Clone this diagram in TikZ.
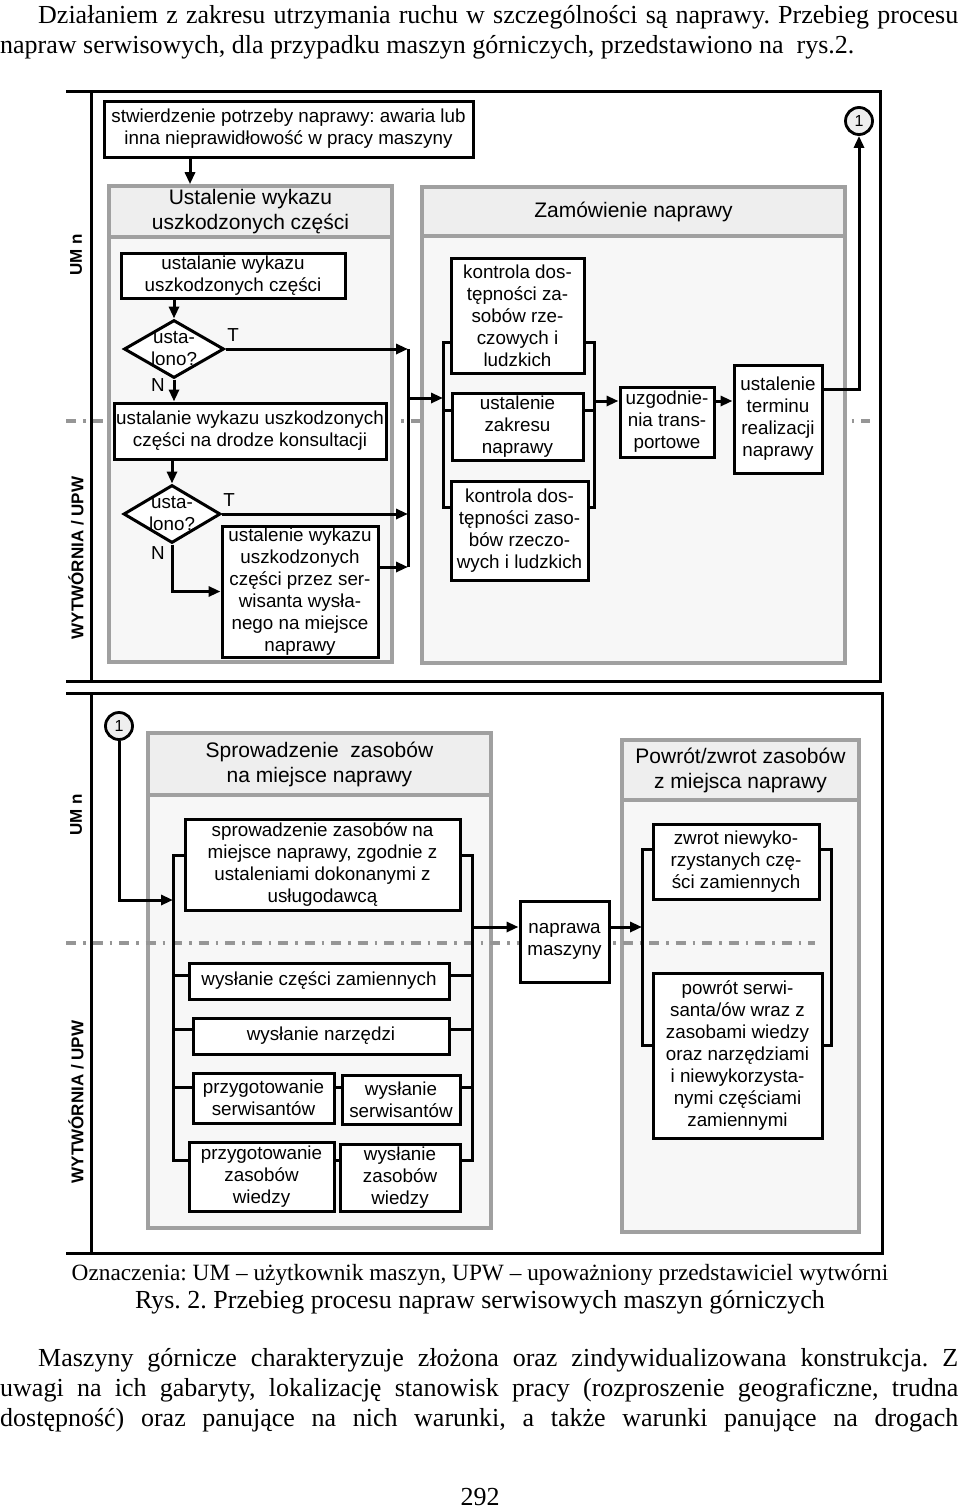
\documentclass[tikz,border=0pt]{standalone}
\usepackage{fontspec}
\setmainfont{Liberation Serif}
\newfontfamily\diagfont{Liberation Sans}
\usetikzlibrary{shapes.geometric, arrows.meta}
\definecolor{grpLine}{RGB}{160,160,160}
\definecolor{grpFill}{RGB}{247,247,247}
\definecolor{headFill}{RGB}{238,238,238}
\definecolor{laneLine}{RGB}{150,150,150}
\frenchspacing

\begin{document}
\begin{tikzpicture}[x=1pt, y=-1pt,
  para/.style={font=\fontsize{26}{30}\selectfont, inner sep=0pt},
  task/.style={
    rectangle,
    draw=black,
    line width=3pt,
    fill=white,
    align=center,
    inner sep=0pt,
    font=\diagfont\fontsize{18.8}{22}\selectfont
  },
  decision/.style={
    diamond,
    draw=black,
    line width=3pt,
    fill=white,
    inner sep=0pt,
    minimum width=100pt,
    minimum height=58pt
  },
  dtext/.style={align=center, inner sep=0pt, font=\diagfont\fontsize{18.8}{22}\selectfont},
  answer/.style={inner sep=0pt, font=\diagfont\fontsize{18.8}{22}\selectfont},
  grpbody/.style={rectangle, draw=grpLine, line width=3.6pt, fill=grpFill, inner sep=0pt},
  grphead/.style={
    rectangle,
    draw=grpLine,
    line width=3.6pt,
    fill=headFill,
    align=center,
    inner sep=0pt,
    font=\diagfont\fontsize{21}{25}\selectfont
  },
  joint/.style={
    circle,
    draw=black,
    line width=2.8pt,
    fill=headFill,
    minimum size=27pt,
    inner sep=0pt,
    font=\diagfont\fontsize{16}{18}\selectfont
  },
  lane/.style={rotate=90, inner sep=0pt, font=\diagfont\bfseries\fontsize{17}{20}\selectfont},
  frame/.style={draw=black, line width=3pt},
  sepline/.style={draw=laneLine, line width=3.2pt, dash pattern=on 10pt off 7pt on 2.5pt off 7pt},
  conn/.style={draw=black, line width=3pt},
  flow/.style={conn, -{Triangle[length=12pt, width=10pt]}}
]
  \useasboundingbox (0,0) rectangle (960,1510);

  % --- tekst strony ---
  \node[para, anchor=base west] (txt1) at (38,23)
    {\hbox to 920pt{Działaniem z zakresu utrzymania ruchu w szczególności są naprawy. Przebieg procesu}};
  \node[para, anchor=base west] (txt2) at (0,53)
    {napraw serwisowych, dla przypadku maszyn górniczych, przedstawiono na\ \ rys.2.};

  % ===== panel 1 =====
  \draw[frame] (66,91) -- (880,91) -- (880,681) -- (66,681);
  \draw[frame] (91,91) -- (91,681);
  \draw[sepline] (66,421) -- (870,421);
  \node[lane] (um1) at (76,255) {UM n};
  \node[lane] (wyt1) at (76,558) {WYTWÓRNIA / UPW};

  \node[task, minimum width=369pt, minimum height=56pt] (start) at (288.5,129)
    {stwierdzenie potrzeby naprawy: awaria lub\\inna nieprawidłowość w pracy maszyny};

  % grupa: ustalenie wykazu
  \node[grpbody, minimum width=283pt, minimum height=425pt] (g1) at (250.5,449.5) {};
  \node[grphead, minimum width=283pt, minimum height=51pt] (g1h) at (250.5,211.5)
    {Ustalenie wykazu\\uszkodzonych części};
  % grupa: zamowienie
  \node[grpbody, minimum width=423pt, minimum height=427pt] (g2) at (633.5,449.5) {};
  \node[grphead, minimum width=423pt, minimum height=49pt] (g2h) at (633.5,211.5)
    {Zamówienie naprawy};

  \node[task, minimum width=224pt, minimum height=45pt] (t1) at (233,275.5)
    {ustalanie wykazu\\uszkodzonych części};
  \node[decision, label={[dtext]center:usta-\\lono?}] (d1) at (174,349) {};
  \node[answer] (d1t) at (233,335) {T};
  \node[answer] (d1n) at (158,385) {N};
  \node[task, minimum width=272pt, minimum height=56pt] (t2) at (250,431)
    {ustalanie wykazu uszkodzonych\\części na drodze konsultacji};
  \node[decision, minimum width=97pt, label={[dtext]center:usta-\\lono?}] (d2) at (172,514) {};
  \node[answer] (d2t) at (229,500) {T};
  \node[answer] (d2n) at (158,553) {N};
  \node[task, minimum width=156pt, minimum height=131pt] (t3) at (300,591.5)
    {ustalenie wykazu\\uszkodzonych\\części przez ser-\\wisanta wysła-\\nego na miejsce\\naprawy};

  \node[task, minimum width=133pt, minimum height=115pt] (k1) at (517.5,315.5)
    {kontrola dos-\\tępności za-\\sobów rze-\\czowych i\\ludzkich};
  \node[task, minimum width=131pt, minimum height=67pt] (k2) at (517.5,426.5)
    {ustalenie\\zakresu\\naprawy};
  \node[task, minimum width=137pt, minimum height=99pt] (k3) at (519.5,530.5)
    {kontrola dos-\\tępności zaso-\\bów rzeczo-\\wych i ludzkich};
  \node[task, minimum width=94pt, minimum height=70pt] (uz) at (667,422)
    {uzgodnie-\\nia trans-\\portowe};
  \node[task, minimum width=88pt, minimum height=108pt] (ut) at (778,419)
    {ustalenie\\terminu\\realizacji\\naprawy};
  \node[joint] (c1) at (859,121) {1};

  \coordinate (jA) at (408,349);
  \coordinate (jM) at (408,398);
  \coordinate (jB) at (408,567);
  \coordinate (kLt) at (443,342);
  \coordinate (kLm) at (443,410);
  \coordinate (kLb) at (443,507);
  \coordinate (kRt) at (594,342);
  \coordinate (kRm) at (594,410);
  \coordinate (kRb) at (594,507);
  \coordinate (kRo) at (594,401);

  \draw[flow] (start.south -| 190,0) -- (g1h.north -| 190,0);
  \draw[flow] (t1.south -| d1) -- (d1.north);
  \draw[flow] (d1.east) -- (jA);
  \draw[flow] (d1.south) -- (d1.south |- t2.north);
  \draw[flow] (t2.south -| d2) -- (d2.north);
  \draw[flow] (d2.east) -- (d2.east -| jA);
  \draw[flow] (d2.south) |- (t3.west);
  \draw[flow] (t3.east |- jB) -- (jB);
  \draw[conn] (jA) -- (jB);
  \draw[flow] (jM) -- (jM -| kLt);

  \draw[conn] (k1.west |- kLt) -- (kLt) -- (kLb) -- (k3.west |- kLb);
  \draw[conn] (kLm) -- (k2.west |- kLm);
  \draw[conn] (k1.east |- kRt) -- (kRt) -- (kRb) -- (k3.east |- kRb);
  \draw[conn] (k2.east |- kRm) -- (kRm);
  \draw[flow] (kRo) -- (uz.west |- kRo);
  \draw[flow] (uz.east |- kRo) -- (ut.west |- kRo);
  \draw[flow] (ut.east |- 0,389) -| (c1.south);

  % ===== panel 2 =====
  \draw[frame] (66,693) -- (882,693) -- (882,1253) -- (66,1253);
  \draw[frame] (91,693) -- (91,1253);
  \node[lane] (um2) at (76,815) {UM n};
  \node[lane] (wyt2) at (76,1102) {WYTWÓRNIA / UPW};

  % grupa: sprowadzenie
  \node[grpbody, minimum width=343pt, minimum height=433pt] (g3) at (319.5,1011.5) {};
  \node[grphead, minimum width=343pt, minimum height=62pt] (g3h) at (319.5,764)
    {Sprowadzenie\ \ zasobów\\na miejsce naprawy};
  % grupa: powrot
  \node[grpbody, minimum width=237pt, minimum height=432pt] (g4) at (740.5,1016) {};
  \node[grphead, minimum width=237pt, minimum height=60pt] (g4h) at (740.5,770)
    {Powrót/zwrot zasobów\\z miejsca naprawy};

  \draw[sepline] (66,943) -- (815,943);

  \node[joint] (c2) at (119,726) {1};
  \node[task, minimum width=275pt, minimum height=91pt] (s1) at (322.5,864.5)
    {sprowadzenie zasobów na\\miejsce naprawy, zgodnie z\\ustaleniami dokonanymi z\\usługodawcą};
  \node[task, minimum width=260pt, minimum height=36pt] (w1) at (319,981)
    {wysłanie części zamiennych};
  \node[task, minimum width=256pt, minimum height=36pt] (w2) at (321,1036)
    {wysłanie narzędzi};
  \node[task, minimum width=141pt, minimum height=50pt] (p1) at (263.5,1098)
    {przygotowanie\\serwisantów};
  \node[task, minimum width=118pt, minimum height=49pt] (w3) at (401,1099.5)
    {wysłanie\\serwisantów};
  \node[task, minimum width=145pt, minimum height=69pt] (p2) at (261.5,1176.5)
    {przygotowanie\\zasobów\\wiedzy};
  \node[task, minimum width=120pt, minimum height=67pt] (w4) at (400,1177.5)
    {wysłanie\\zasobów\\wiedzy};
  \node[task, minimum width=89pt, minimum height=81pt] (nm) at (564.5,941.5)
    {naprawa\\maszyny};
  \node[task, minimum width=166pt, minimum height=75pt] (z1) at (736,861.5)
    {zwrot niewyko-\\rzystanych czę-\\ści zamiennych};
  \node[task, minimum width=169pt, minimum height=165pt] (z2) at (737.5,1055.5)
    {powrót serwi-\\santa/ów wraz z\\zasobami wiedzy\\oraz narzędziami\\i niewykorzysta-\\nymi częściami\\zamiennymi};

  \coordinate (sLa) at (173,900);
  \coordinate (sLt) at (173,855);
  \coordinate (sLb) at (173,1160);
  \coordinate (sRt) at (472,855);
  \coordinate (sRb) at (472,1160);
  \coordinate (sRo) at (472,927);
  \coordinate (zLt) at (642,849);
  \coordinate (zLb) at (642,1045);
  \coordinate (zRt) at (831,849);
  \coordinate (zRb) at (831,1045);

  \draw[flow] (c2.south) |- (sLa);
  \draw[conn] (s1.west |- sLt) -- (sLt) -- (sLb) -- (p2.west |- sLb);
  \draw[conn] (s1.east |- sRt) -- (sRt) -- (sRb) -- (w4.east |- sRb);
  \foreach \n/\y in {w1/975, w2/1029, p1/1087}
    \draw[conn] (173,\y) -- (\n.west |- 173,\y);
  \foreach \n/\y in {w1/975, w2/1029, w3/1087}
    \draw[conn] (\n.east |- 472,\y) -- (472,\y);
  \draw[conn] (p1.east |- 0,1087) -- (w3.west |- 0,1087);
  \draw[conn] (p2.east |- sLb) -- (w4.west |- sLb);
  \draw[flow] (sRo) -- (nm.west |- sRo);
  \draw[flow] (nm.east |- sRo) -- (zLt |- sRo);
  \draw[conn] (z1.west |- zLt) -- (zLt) -- (zLb) -- (z2.west |- zLb);
  \draw[conn] (z1.east |- zRt) -- (zRt) -- (zRb) -- (z2.east |- zRb);

  % --- podpis i dalszy tekst ---
  \node[para, font=\fontsize{23.3}{27}\selectfont, anchor=base] (cap1) at (480,1280)
    {Oznaczenia: UM – użytkownik maszyn, UPW – upoważniony przedstawiciel wytwórni};
  \node[para, anchor=base] (cap2) at (480,1308)
    {Rys. 2. Przebieg procesu napraw serwisowych maszyn górniczych};
  \node[para, anchor=base west] (txt3) at (38,1366)
    {\hbox to 920pt{Maszyny górnicze charakteryzuje złożona oraz zindywidualizowana konstrukcja. Z}};
  \node[para, anchor=base west] (txt4) at (0,1396)
    {\hbox to 958pt{uwagi na ich gabaryty, lokalizację stanowisk pracy (rozproszenie geograficzne, trudna}};
  \node[para, anchor=base west] (txt5) at (0,1426)
    {\hbox to 958pt{dostępność) oraz panujące na nich warunki, a także warunki panujące na drogach}};
  \node[para, anchor=base] (pnum) at (480,1505) {292};
\end{tikzpicture}
\end{document}
